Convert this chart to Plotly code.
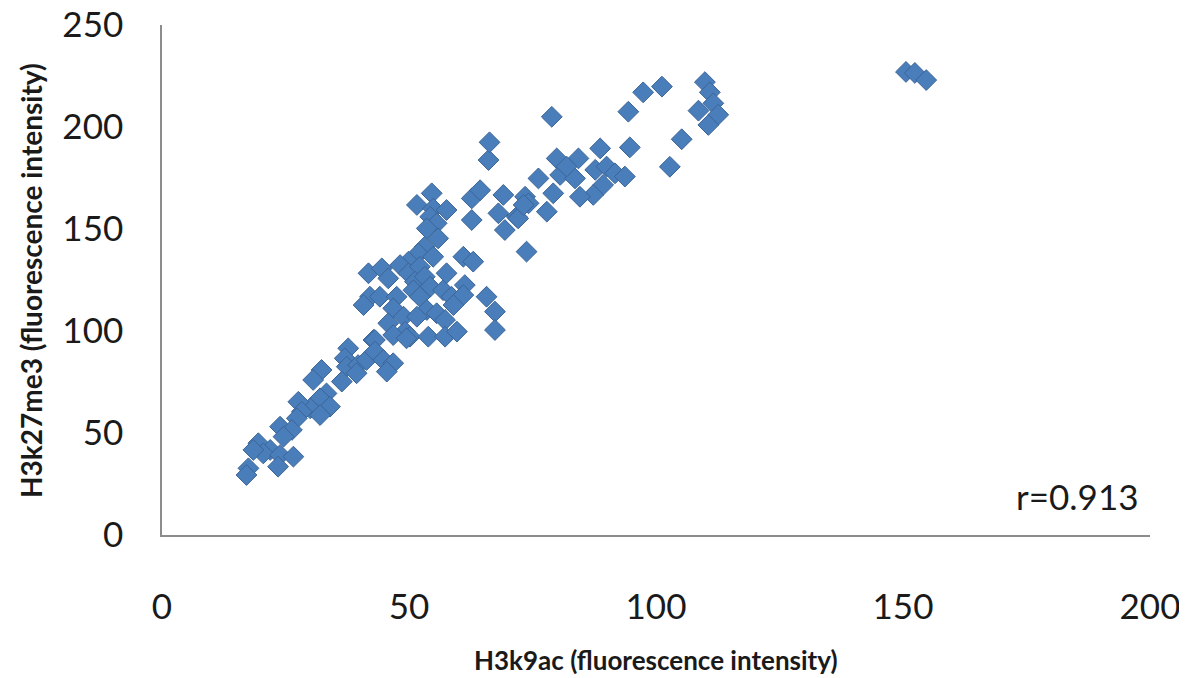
import plotly.graph_objects as go

h3k9ac = [150.6, 152.4, 154.7,
          78.9, 97.4, 101.2, 109.9, 110.9, 108.6, 111.6, 112.6, 110.6, 94.4, 105.2, 102.8, 94.7, 88.7,
          79.9, 84.3, 76.2, 80.6, 83.6, 87.7, 90.0, 91.7, 93.7, 89.3, 87.3, 84.6, 79.2, 77.9, 73.5, 74.2,
          71.8, 69.4, 69.1, 73.8, 81.9,
          66.1, 66.3, 54.6, 51.6, 54.9, 57.6, 54.3, 55.6, 53.6, 55.9, 53.2, 51.9, 54.9, 49.9, 48.2, 41.8,
          44.5, 45.8, 49.9, 52.2, 51.2, 53.2, 54.3, 56.9, 58.6, 57.6, 61.0, 63.0, 61.3, 61.0, 65.7, 67.4,
          67.4, 62.7, 64.4, 68.1, 62.7, 72.1, 73.2, 42.1, 44.1, 40.8, 47.5, 46.8, 48.9, 50.9, 52.2, 53.6,
          51.6, 55.6, 57.3, 59.0, 45.8, 49.2, 50.2, 53.9, 57.3, 59.7, 42.8, 37.7,
          43.1, 46.8, 49.5, 37.0, 37.4, 39.7, 41.4, 43.1, 44.8, 46.8, 45.5, 39.4, 36.4, 32.3, 30.6, 33.3,
          32.0, 30.0, 34.0, 32.0, 27.6, 28.3, 27.3, 23.9, 26.3, 24.6, 19.5, 21.9, 20.5, 23.9, 26.6, 23.5,
          17.5, 17.1, 18.5]
h3k27me3 = [227.0, 226.5, 223.0,
            205.0, 217.0, 219.8, 222.0, 217.0, 208.0, 211.6, 206.0, 201.0, 207.5, 194.0, 180.5, 190.0, 189.5,
            184.6, 184.6, 174.8, 176.5, 174.8, 179.0, 180.6, 177.3, 175.7, 171.6, 166.7, 165.8, 167.5, 158.5,
            165.8, 162.6, 156.0, 149.5, 166.7, 138.9, 180.6,
            183.8, 192.5, 167.5, 161.8, 160.0, 159.3, 156.0, 152.8, 150.3, 145.4, 141.3, 138.0, 136.4, 134.0,
            132.3, 128.3, 130.7, 125.8, 128.3, 131.5, 124.2, 126.6, 121.7, 120.0, 116.8, 128.3, 136.4, 134.0,
            122.5, 117.6, 116.8, 109.5, 100.5, 165.0, 169.0, 157.7, 154.4, 155.2, 161.8, 116.8, 116.8, 112.7,
            116.8, 111.1, 107.0, 120.0, 116.8, 110.3, 107.0, 108.7, 105.4, 112.7, 103.8, 99.7, 97.2, 97.2,
            97.2, 99.7, 95.6, 91.5,
            95.6, 98.0, 96.4, 86.6, 82.5, 83.3, 85.8, 89.9, 85.8, 84.2, 80.1, 79.3, 75.2, 80.9, 76.0, 69.4,
            67.0, 62.1, 62.9, 58.8, 65.3, 60.4, 57.2, 53.1, 51.5, 48.2, 45.0, 41.7, 40.0, 39.2, 38.4, 33.5,
            32.7, 29.4, 41.7]

x_ticks = [0, 50, 100, 150, 200]
y_ticks = [0, 50, 100, 150, 200, 250]
x_title = "H3k9ac (fluorescence intensity)"
y_title = "H3k27me3 (fluorescence intensity)"
r_label = "r=0.913"

FONT = "Lato, 'Open Sans', sans-serif"

fig = go.Figure()
fig.add_trace(go.Scatter(
    x=h3k9ac, y=h3k27me3, mode="markers",
    marker=dict(symbol="diamond", size=16, color="#4A7EBB",
                line=dict(color="#3B6496", width=1)),
    showlegend=False, hoverinfo="x+y"))

axis_common = dict(showgrid=False, zeroline=False, showline=True, automargin=False,
                   linecolor="#8C8C8C", linewidth=1.5, ticks="", ticklabeloverflow="allow",
                   tickfont=dict(family=FONT, size=35, color="#1A1A1A"))

fig.update_xaxes(range=[0, 200], tickvals=x_ticks, ticklabelstandoff=40, **axis_common)
fig.update_yaxes(range=[0, 250], tickvals=y_ticks, ticklabelstandoff=30, **axis_common)

fig.add_annotation(text=x_title, xref="paper", yref="paper", x=0.5, y=-0.245,
                   xanchor="center", yanchor="middle",
                   showarrow=False, font=dict(family=FONT, size=26, color="#1A1A1A", weight="bold"))
fig.add_annotation(text=y_title, xref="paper", yref="paper", x=-0.1326, y=0.5, textangle=-90,
                   xanchor="center", yanchor="middle",
                   showarrow=False, font=dict(family=FONT, size=28, color="#1A1A1A", weight="bold"))
fig.add_annotation(text=r_label, x=185.4, y=19.1, showarrow=False,
                   xanchor="center", yanchor="middle",
                   font=dict(family=FONT, size=35, color="#1A1A1A"))

# page body has an 8px margin; size the figure so the plot lands where the reference has it
fig.update_layout(width=1179, height=670, plot_bgcolor="white", paper_bgcolor="white",
                  margin=dict(l=154, r=37, t=17, b=143))

fig.write_html("out.html")
